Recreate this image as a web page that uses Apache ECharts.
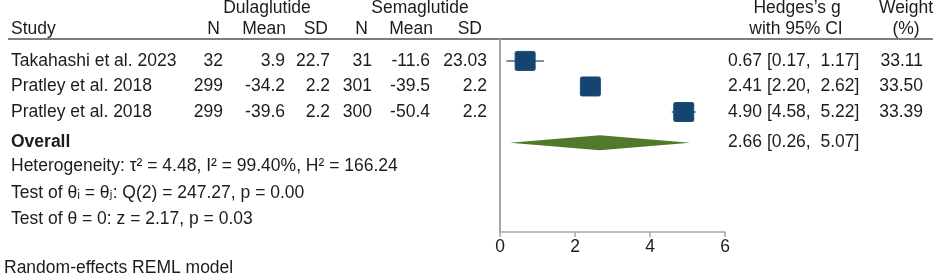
<!DOCTYPE html>
<html>
<head>
<meta charset="utf-8">
<script src="https://cdn.jsdelivr.net/npm/echarts@6/dist/echarts.min.js"></script>
<style>
  html, body { margin: 0; padding: 0; background: #fff; }
  #chart { width: 941px; height: 280px; }
</style>
</head>
<body>
<div id="chart"></div>
<script>
// study table
const studies = ["Takahashi et al. 2023", "Pratley et al. 2018", "Pratley et al. 2018"];
const duN = [32, 299, 299];
const duMean = ["3.9", "-34.2", "-39.6"];
const duSD = ["22.7", "2.2", "2.2"];
const seN = [31, 301, 300];
const seMean = ["-11.6", "-39.5", "-50.4"];
const seSD = ["23.03", "2.2", "2.2"];
// effect sizes
const effect = [0.67, 2.41, 4.90];
const ciLow = [0.17, 2.20, 4.58];
const ciHigh = [1.17, 2.62, 5.22];
const weight = [33.11, 33.50, 33.39];
const overall = { est: 2.66, low: 0.26, high: 5.07 };
const xTicks = [0, 2, 4, 6];
const statLines = [
  "Heterogeneity: τ² = 4.48, I² = 99.40%, H² = 166.24",
  "Test of θᵢ = θⱼ: Q(2) = 247.27, p = 0.00",
  "Test of θ = 0: z = 2.17, p = 0.03"
];

const rowPos = [1, 2, 3];
const overallPos = 4.2;
const FONT = '"Liberation Sans", Arial, "DejaVu Sans", sans-serif';
const FS = 17.5;
const TXT = "#1c1c1c";

const chart = echarts.init(document.getElementById("chart"), null, { renderer: "canvas" });

const option = {
  animation: false,
  grid: { left: 500, top: 40, width: 225, height: 192 },
  xAxis: {
    type: "value",
    min: xTicks[0],
    max: xTicks[xTicks.length - 1],
    interval: 2,
    axisLine: { show: true, lineStyle: { color: "#a6a6a6", width: 1.5 } },
    axisTick: { show: true, length: 5, lineStyle: { color: "#a6a6a6", width: 1.5 } },
    axisLabel: { color: TXT, fontSize: FS, fontFamily: FONT, margin: 6 },
    splitLine: { show: false }
  },
  yAxis: {
    type: "value",
    inverse: true,
    min: 0.18,
    max: 7.7,
    axisLine: { show: true, lineStyle: { color: "#a6a6a6", width: 2 } },
    axisTick: { show: false },
    axisLabel: { show: false },
    splitLine: { show: false }
  },
  series: [
    {
      type: "custom",
      data: effect.map((e, i) => [e, rowPos[i], ciLow[i], ciHigh[i]]),
      renderItem: function (params, api) {
        const c = api.coord([api.value(0), api.value(1)]);
        const l = api.coord([api.value(2), api.value(1)]);
        const h = api.coord([api.value(3), api.value(1)]);
        const w = 20, ht = 19;
        return {
          type: "group",
          children: [
            { type: "line", shape: { x1: l[0], y1: l[1], x2: h[0], y2: h[1] },
              style: { stroke: "#6f8fb0", lineWidth: 2 } },
            { type: "rect", shape: { x: c[0] - w / 2, y: c[1] - ht / 2, width: w, height: ht, r: 1.5 },
              style: { fill: "#14446f", stroke: "#1d4d78", lineWidth: 1 } }
          ]
        };
      }
    },
    {
      type: "custom",
      data: [[overall.est, overallPos, overall.low, overall.high]],
      renderItem: function (params, api) {
        const c = api.coord([api.value(0), api.value(1)]);
        const l = api.coord([api.value(2), api.value(1)]);
        const h = api.coord([api.value(3), api.value(1)]);
        const hh = 7.5;
        return {
          type: "polygon",
          shape: { points: [[l[0], l[1]], [c[0], c[1] - hh], [h[0], h[1]], [c[0], c[1] + hh]] },
          style: { fill: "#50792b" }
        };
      }
    }
  ]
};
chart.setOption(option);

function txt(text, x, y, align, extra) {
  return {
    type: "text",
    x: x, y: y,
    style: Object.assign({
      text: text, fill: TXT, fontSize: FS, fontFamily: FONT,
      align: align || "left", verticalAlign: "middle"
    }, extra || {})
  };
}

const rowY = rowPos.map(p => chart.convertToPixel({ gridIndex: 0 }, [0, p])[1]);
const overallY = chart.convertToPixel({ gridIndex: 0 }, [0, overallPos])[1];

// right edges of the numeric columns, and of their headers
const colRight = [223, 285, 330, 372, 430, 487];
const headRight = [220, 286, 328, 368, 433, 482];
const fmtCI = (e, l, h) => e.toFixed(2) + " [" + l.toFixed(2) + ",  " + h.toFixed(2) + "]";

const els = [];
// headers
els.push(txt("Dulaglutide", 267, 8, "center"));
els.push(txt("Semaglutide", 420, 8, "center"));
els.push(txt("Hedges\u2019s g", 797, 8, "center"));
els.push(txt("Weight", 906, 8, "center"));
els.push(txt("Study", 11, 29, "left"));
["N", "Mean", "SD", "N", "Mean", "SD"].forEach((h, k) => els.push(txt(h, headRight[k], 29, "right")));
els.push(txt("with 95% CI", 796, 29, "center"));
els.push(txt("(%)", 906, 29, "center"));
els.push({ type: "line", shape: { x1: 8, y1: 39, x2: 933, y2: 39 }, style: { stroke: "#7d7d7d", lineWidth: 2 } });

// study rows
studies.forEach((s, i) => {
  const y = rowY[i];
  els.push(txt(s, 11, y, "left"));
  [duN[i], duMean[i], duSD[i], seN[i], seMean[i], seSD[i]].forEach((v, k) =>
    els.push(txt(String(v), colRight[k], y, "right")));
  els.push(txt(fmtCI(effect[i], ciLow[i], ciHigh[i]), 728, y, "left"));
  els.push(txt(weight[i].toFixed(2), 923, y, "right"));
});

// overall
els.push(txt("Overall", 11, overallY, "left", { fontWeight: "bold" }));
els.push(txt(fmtCI(overall.est, overall.low, overall.high), 728, overallY, "left"));
const statY = [166, 193, 219];
statLines.forEach((s, k) => els.push(txt(s, 11, statY[k], "left")));
els.push(txt("Random-effects REML model", 4, 268, "left"));

chart.setOption({ graphic: { elements: els } });
</script>
</body>
</html>
